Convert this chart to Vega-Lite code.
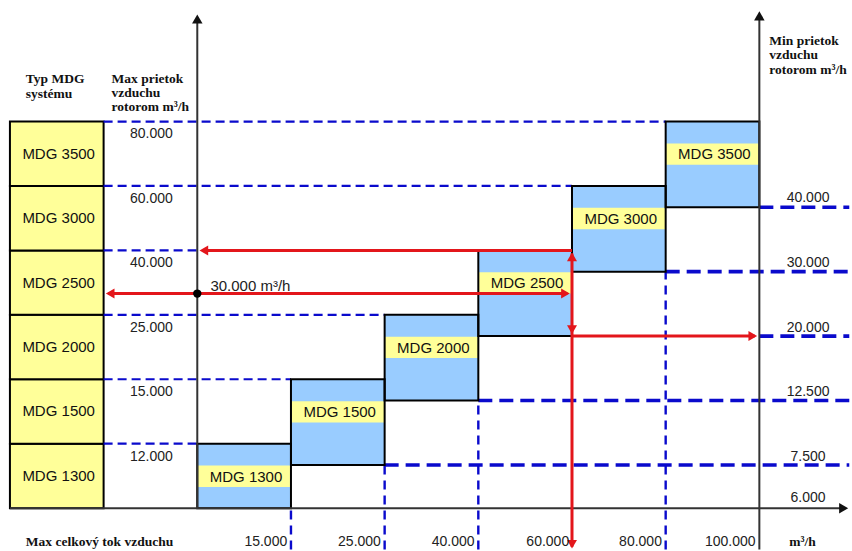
{
  "$schema": "https://vega.github.io/schema/vega-lite/v6.json",
  "width": 852,
  "height": 551,
  "autosize": {"type": "fit", "contains": "padding"},
  "padding": 0,
  "background": "white",
  "config": {"view": {"stroke": null}},
  "datasets": {
    "leftcol": [
      {"label": "MDG 1300", "x": -2, "x2": -1, "y": 0, "y2": 1},
      {"label": "MDG 1500", "x": -2, "x2": -1, "y": 1, "y2": 2},
      {"label": "MDG 2000", "x": -2, "x2": -1, "y": 2, "y2": 3},
      {"label": "MDG 2500", "x": -2, "x2": -1, "y": 3, "y2": 4},
      {"label": "MDG 3000", "x": -2, "x2": -1, "y": 4, "y2": 5},
      {"label": "MDG 3500", "x": -2, "x2": -1, "y": 5, "y2": 6}
    ],
    "boxes": [
      {"label": "MDG 1300", "x": 0, "x2": 1, "y": 0, "y2": 1},
      {"label": "MDG 1500", "x": 1, "x2": 2, "y": 0.67, "y2": 2},
      {"label": "MDG 2000", "x": 2, "x2": 3, "y": 1.67, "y2": 3},
      {"label": "MDG 2500", "x": 3, "x2": 4, "y": 2.67, "y2": 4},
      {"label": "MDG 3000", "x": 4, "x2": 5, "y": 3.67, "y2": 5},
      {"label": "MDG 3500", "x": 5, "x2": 6, "y": 4.67, "y2": 6}
    ],
    "bands": [
      {"x": 0, "x2": 1, "y": 0.33, "y2": 0.66},
      {"x": 1, "x2": 2, "y": 1.33, "y2": 1.66},
      {"x": 2, "x2": 3, "y": 2.33, "y2": 2.66},
      {"x": 3, "x2": 4, "y": 3.33, "y2": 3.66},
      {"x": 4, "x2": 5, "y": 4.33, "y2": 4.66},
      {"x": 5, "x2": 6, "y": 5.33, "y2": 5.66}
    ],
    "thinDash": [
      {"x": -1, "x2": 0, "y": 1},
      {"x": -1, "x2": 1, "y": 2},
      {"x": -1, "x2": 2, "y": 3},
      {"x": -1, "x2": 0, "y": 4},
      {"x": -1, "x2": 4, "y": 5},
      {"x": -1, "x2": 5, "y": 6}
    ],
    "thickDash": [
      {"x": 6, "x2": 6.96, "y": 4.67},
      {"x": 5, "x2": 6.96, "y": 3.67},
      {"x": 6, "x2": 6.96, "y": 2.67},
      {"x": 3, "x2": 6.96, "y": 1.67},
      {"x": 2, "x2": 6.96, "y": 0.67}
    ],
    "vertDash": [
      {"x": 1, "y": -0.64, "y2": 0},
      {"x": 2, "y": -0.64, "y2": 0.67},
      {"x": 3, "y": -0.64, "y2": 1.67},
      {"x": 5, "y": -0.64, "y2": 3.67}
    ],
    "axes": [
      {"x": 0, "x2": 0, "y": 0, "y2": 7.55},
      {"x": 6, "x2": 6, "y": -0.64, "y2": 7.6},
      {"x": -2, "x2": 6.88, "y": 0, "y2": 0}
    ],
    "axisHeads": [
      {"x": 0, "y": 7.59, "dir": "up"},
      {"x": 6, "y": 7.64, "dir": "up"},
      {"x": 6.9, "y": 0, "dir": "right"}
    ],
    "red": [
      {"x": 0.05, "x2": 4, "y": 4, "y2": 4},
      {"x": -0.95, "x2": 3.95, "y": 3.33, "y2": 3.33},
      {"x": 4, "x2": 5.95, "y": 2.67, "y2": 2.67},
      {"x": 4, "x2": 4, "y": -0.6, "y2": 3.95}
    ],
    "redHeads": [
      {"x": 0.07, "y": 4, "dir": "left"},
      {"x": -0.93, "y": 3.33, "dir": "left"},
      {"x": 3.93, "y": 3.33, "dir": "right"},
      {"x": 5.93, "y": 2.67, "dir": "right"},
      {"x": 4, "y": 3.9, "dir": "up"},
      {"x": 4, "y": 2.77, "dir": "down"},
      {"x": 4, "y": -0.56, "dir": "down"}
    ],
    "dot": [{"x": 0, "y": 3.33}],
    "mdgLabels": [
      {"t": "MDG 1300", "x": -1.48, "y": 0.5},
      {"t": "MDG 1500", "x": -1.48, "y": 1.5},
      {"t": "MDG 2000", "x": -1.48, "y": 2.5},
      {"t": "MDG 2500", "x": -1.48, "y": 3.5},
      {"t": "MDG 3000", "x": -1.48, "y": 4.5},
      {"t": "MDG 3500", "x": -1.48, "y": 5.5},
      {"t": "MDG 1300", "x": 0.52, "y": 0.49},
      {"t": "MDG 1500", "x": 1.52, "y": 1.49},
      {"t": "MDG 2000", "x": 2.52, "y": 2.49},
      {"t": "MDG 2500", "x": 3.52, "y": 3.49},
      {"t": "MDG 3000", "x": 4.52, "y": 4.49},
      {"t": "MDG 3500", "x": 5.52, "y": 5.49}
    ],
    "leftVals": [
      {"t": "12.000", "x": -0.49, "y": 0.8},
      {"t": "15.000", "x": -0.49, "y": 1.8},
      {"t": "25.000", "x": -0.49, "y": 2.8},
      {"t": "40.000", "x": -0.49, "y": 3.8},
      {"t": "60.000", "x": -0.49, "y": 4.8},
      {"t": "80.000", "x": -0.49, "y": 5.8}
    ],
    "rightVals": [
      {"t": "6.000", "x": 6.52, "y": 0.16},
      {"t": "7.500", "x": 6.52, "y": 0.8},
      {"t": "12.500", "x": 6.52, "y": 1.8},
      {"t": "20.000", "x": 6.52, "y": 2.8},
      {"t": "30.000", "x": 6.52, "y": 3.8},
      {"t": "40.000", "x": 6.52, "y": 4.81}
    ],
    "bottomVals": [
      {"t": "15.000", "x": 0.96, "y": -0.53},
      {"t": "25.000", "x": 1.96, "y": -0.53},
      {"t": "40.000", "x": 2.96, "y": -0.53},
      {"t": "60.000", "x": 3.97, "y": -0.53},
      {"t": "80.000", "x": 4.96, "y": -0.53},
      {"t": "100.000", "x": 5.96, "y": -0.53}
    ],
    "note": [{"t": "30.000 m³/h", "x": 0.14, "y": 3.45}],
    "headings": [
      {"t": "Typ MDG", "x": -1.83, "y": 6.6},
      {"t": "systému", "x": -1.83, "y": 6.37},
      {"t": "Max prietok", "x": -0.915, "y": 6.6},
      {"t": "vzduchu", "x": -0.915, "y": 6.38},
      {"t": "rotorom m³/h", "x": -0.915, "y": 6.16},
      {"t": "Min prietok", "x": 6.106, "y": 7.19},
      {"t": "vzduchu", "x": 6.106, "y": 6.97},
      {"t": "rotorom m³/h", "x": 6.106, "y": 6.74},
      {"t": "Max celkový tok vzduchu", "x": -1.83, "y": -0.59},
      {"t": "m³/h", "x": 6.32, "y": -0.59}
    ]
  },
  "encoding": {
    "x": {"field": "x", "type": "quantitative", "scale": {"domain": [-2.106, 6.957], "nice": false, "zero": false}, "axis": null},
    "y": {"field": "y", "type": "quantitative", "scale": {"domain": [-0.634, 7.886], "nice": false, "zero": false}, "axis": null}
  },
  "layer": [
    {
      "data": {"name": "leftcol"},
      "mark": {"type": "rect", "fill": "#FFFF99", "stroke": "#000000", "strokeWidth": 2},
      "encoding": {"x2": {"field": "x2"}, "y2": {"field": "y2"}}
    },
    {
      "data": {"name": "boxes"},
      "mark": {"type": "rect", "fill": "#99CCFF"},
      "encoding": {"x2": {"field": "x2"}, "y2": {"field": "y2"}}
    },
    {
      "data": {"name": "bands"},
      "mark": {"type": "rect", "fill": "#FFFF99"},
      "encoding": {"x2": {"field": "x2"}, "y2": {"field": "y2"}}
    },
    {
      "data": {"name": "thinDash"},
      "mark": {"type": "rule", "color": "#0a0acc", "strokeWidth": 2.2, "strokeDash": [9, 5]},
      "encoding": {"x2": {"field": "x2"}}
    },
    {
      "data": {"name": "vertDash"},
      "mark": {"type": "rule", "color": "#0a0acc", "strokeWidth": 2.4, "strokeDash": [9, 6]},
      "encoding": {"y2": {"field": "y2"}}
    },
    {
      "data": {"name": "thickDash"},
      "mark": {"type": "rule", "color": "#0a0acc", "strokeWidth": 3.6, "strokeDash": [14, 7]},
      "encoding": {"x2": {"field": "x2"}}
    },
    {
      "data": {"name": "boxes"},
      "mark": {"type": "rect", "fillOpacity": 0, "stroke": "#000000", "strokeWidth": 2},
      "encoding": {"x2": {"field": "x2"}, "y2": {"field": "y2"}}
    },
    {
      "data": {"name": "axes"},
      "mark": {"type": "rule", "color": "#333333", "strokeWidth": 2},
      "encoding": {"x2": {"field": "x2"}, "y2": {"field": "y2"}}
    },
    {
      "data": {"name": "axisHeads"},
      "mark": {"type": "point", "filled": true, "color": "#111111", "size": 110, "opacity": 1},
      "encoding": {
        "shape": {"field": "dir", "type": "nominal", "scale": {"domain": ["up", "down", "left", "right"], "range": ["triangle-up", "triangle-down", "triangle-left", "triangle-right"]}, "legend": null}
      }
    },
    {
      "data": {"name": "red"},
      "mark": {"type": "rule", "color": "#e3161b", "strokeWidth": 3},
      "encoding": {"x2": {"field": "x2"}, "y2": {"field": "y2"}}
    },
    {
      "data": {"name": "redHeads"},
      "mark": {"type": "point", "filled": true, "color": "#e3161b", "size": 100, "opacity": 1},
      "encoding": {
        "shape": {"field": "dir", "type": "nominal", "scale": {"domain": ["up", "down", "left", "right"], "range": ["triangle-up", "triangle-down", "triangle-left", "triangle-right"]}, "legend": null}
      }
    },
    {
      "data": {"name": "dot"},
      "mark": {"type": "point", "shape": "circle", "filled": true, "color": "#000000", "size": 70, "opacity": 1}
    },
    {
      "data": {"name": "mdgLabels"},
      "mark": {"type": "text", "font": "Liberation Sans", "fontSize": 15, "color": "#111111", "align": "center", "baseline": "middle"},
      "encoding": {"text": {"field": "t"}}
    },
    {
      "data": {"name": "leftVals"},
      "mark": {"type": "text", "font": "Liberation Sans", "fontSize": 14, "color": "#222222", "align": "center", "baseline": "middle"},
      "encoding": {"text": {"field": "t"}}
    },
    {
      "data": {"name": "rightVals"},
      "mark": {"type": "text", "font": "Liberation Sans", "fontSize": 14, "color": "#222222", "align": "center", "baseline": "middle"},
      "encoding": {"text": {"field": "t"}}
    },
    {
      "data": {"name": "bottomVals"},
      "mark": {"type": "text", "font": "Liberation Sans", "fontSize": 14, "color": "#222222", "align": "right", "baseline": "middle"},
      "encoding": {"text": {"field": "t"}}
    },
    {
      "data": {"name": "note"},
      "mark": {"type": "text", "font": "Liberation Sans", "fontSize": 15, "color": "#222222", "align": "left", "baseline": "middle"},
      "encoding": {"text": {"field": "t"}}
    },
    {
      "data": {"name": "headings"},
      "mark": {"type": "text", "font": "Liberation Serif", "fontWeight": "bold", "fontSize": 13.5, "color": "#111111", "align": "left", "baseline": "alphabetic"},
      "encoding": {"text": {"field": "t"}}
    }
  ]
}
